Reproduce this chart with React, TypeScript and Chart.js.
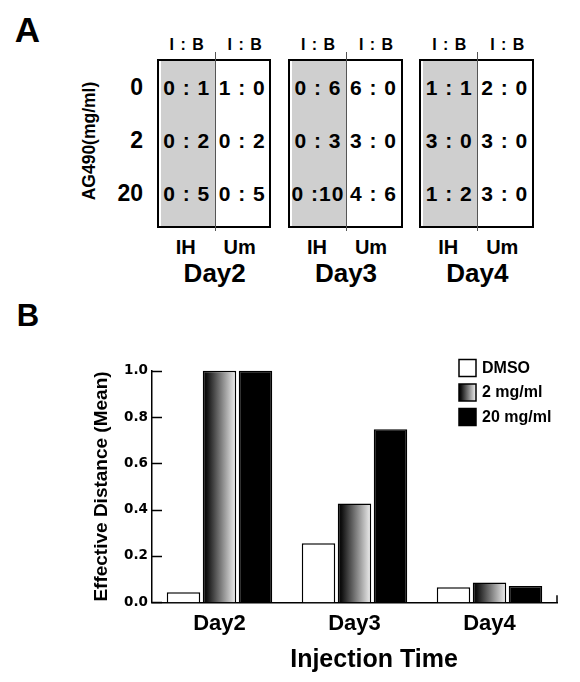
import React, { useEffect, useRef } from "react";
import { Chart, registerables } from "chart.js";
Chart.register(...registerables);

// ---------- Panel B data ----------
const categories = ["Day2", "Day3", "Day4"];
const seriesLabels = ["DMSO", "2 mg/ml", "20 mg/ml"];
const dmsoValues = [0.043, 0.255, 0.065];
const mg2Values = [1.0, 0.427, 0.086];
const mg20Values = [1.0, 0.747, 0.07];
const yTicks = [0, 0.2, 0.4, 0.6, 0.8, 1.0];
const yTitle = "Effective Distance (Mean)";
const xTitle = "Injection Time";

// ---------- Panel A data ----------
const panelDays = ["Day2", "Day3", "Day4"];
const doseLabels = ["0", "2", "20"];
const doseAxisLabel = "AG490(mg/ml)";
const columnHeaders = ["I : B", "I : B"];
const columnLabels = ["IH", "Um"];
const ihRatios = [
  ["0 : 1", "0 : 2", "0 : 5"],
  ["0 : 6", "0 : 3", "0 :10"],
  ["1 : 1", "3 : 0", "1 : 2"],
];
const umRatios = [
  ["1 : 0", "0 : 2", "0 : 5"],
  ["6 : 0", "3 : 0", "4 : 6"],
  ["2 : 0", "3 : 0", "3 : 0"],
];

const FONT = '"Liberation Sans", Arial, Helvetica, sans-serif';
const TICK_FONT = '"DejaVu Sans", "Liberation Sans", sans-serif';

function makeGradient(c: CanvasRenderingContext2D, x0: number, x1: number) {
  const g = c.createLinearGradient(x0, 0, x1, 0);
  g.addColorStop(0, "#000000");
  g.addColorStop(0.12, "#101010");
  g.addColorStop(1, "#f2f2f2");
  return g;
}

function Txt(props: {
  x: number;
  y: number;
  size: number;
  bold?: boolean;
  ls?: number;
  anchor?: "center" | "end" | "start";
  children: React.ReactNode;
}) {
  const { x, y, size, bold = true, ls = 0, anchor = "center", children } = props;
  const w = 200;
  const left = anchor === "center" ? x - w / 2 : anchor === "end" ? x - w : x;
  return (
    <div
      style={{
        position: "absolute",
        left,
        top: y - size,
        width: w,
        height: size * 2,
        display: "flex",
        alignItems: "center",
        justifyContent:
          anchor === "center" ? "center" : anchor === "end" ? "flex-end" : "flex-start",
        fontFamily: FONT,
        fontSize: size,
        fontWeight: bold ? 700 : 400,
        lineHeight: 1,
        letterSpacing: ls,
        paddingLeft: anchor === "center" ? ls : 0,
        boxSizing: "border-box",
        whiteSpace: "pre",
        color: "#000",
      }}
    >
      {children}
    </div>
  );
}

function PanelA() {
  const rowsY = [87, 140, 193];
  return (
    <>
      <Txt x={27.5} y={29.5} size={35}>A</Txt>
      <div
        style={{
          position: "absolute",
          left: 90 - 100,
          top: 141 - 12,
          width: 200,
          height: 24,
          display: "flex",
          alignItems: "center",
          justifyContent: "center",
          transform: "rotate(-90deg)",
          fontFamily: FONT,
          fontSize: 17.5,
          fontWeight: 700,
          lineHeight: 1,
          color: "#000",
          whiteSpace: "pre",
        }}
      >
        {doseAxisLabel}
      </div>
      {doseLabels.map((d, r) => (
        <Txt key={"d" + r} x={143} y={rowsY[r]} size={23} anchor="end">
          {d}
        </Txt>
      ))}
      {panelDays.map((day, i) => {
        const L = 156.7 + i * 131.3;
        return (
          <React.Fragment key={day}>
            <div
              style={{
                position: "absolute",
                left: L + 4,
                top: 61,
                width: 54,
                height: 165,
                background: "#cfcfcf",
              }}
            />
            <div
              style={{
                position: "absolute",
                left: L,
                top: 59,
                width: 114.5,
                height: 169,
                border: "2px solid #000",
                boxSizing: "border-box",
              }}
            />
            <div
              style={{
                position: "absolute",
                left: L + 58,
                top: 52,
                width: 1,
                height: 179,
                background: "#555",
              }}
            />
            <Txt x={L + 30} y={45} size={16} ls={1}>{columnHeaders[0]}</Txt>
            <Txt x={L + 88} y={45} size={16} ls={1}>{columnHeaders[1]}</Txt>
            {rowsY.map((y, r) => (
              <React.Fragment key={r}>
                <Txt x={L + 29.5} y={y} size={21} ls={1}>{ihRatios[i][r]}</Txt>
                <Txt x={L + 85} y={y} size={21} ls={1}>{umRatios[i][r]}</Txt>
              </React.Fragment>
            ))}
            <Txt x={L + 29} y={247} size={20}>{columnLabels[0]}</Txt>
            <Txt x={L + 83} y={247} size={20}>{columnLabels[1]}</Txt>
            <Txt x={L + 58} y={273} size={26}>{day}</Txt>
          </React.Fragment>
        );
      })}
    </>
  );
}

const decorPlugin = {
  id: "decor",
  afterDraw(chart: any) {
    const c: CanvasRenderingContext2D = chart.ctx;
    const { chartArea, scales } = chart;
    const y = scales.y;
    c.save();
    c.strokeStyle = "#000";
    c.lineWidth = 1.5;
    // inward y ticks
    yTicks.forEach((v) => {
      const py = Math.round(y.getPixelForValue(v)) + 0.5;
      c.beginPath();
      c.moveTo(chartArea.left, py);
      c.lineTo(chartArea.left + 10, py);
      c.stroke();
    });
    // right end tick of x axis
    c.beginPath();
    c.moveTo(chartArea.right, chartArea.bottom);
    c.lineTo(chartArea.right, chartArea.bottom - 7);
    c.stroke();

    // x title
    c.fillStyle = "#000";
    c.font = `bold 25px ${FONT}`;
    c.textAlign = "center";
    c.textBaseline = "middle";
    c.fillText(xTitle, 374, 370);

    // legend
    const fills = ["#ffffff", "grad", "#000000"];
    const lx = 459;
    const rowsC = [78, 102.5, 127];
    c.font = `bold 16px ${FONT}`;
    c.textAlign = "left";
    seriesLabels.forEach((lab, i) => {
      const cy = rowsC[i];
      const bx = lx, by = cy - 8.5, bw = 17, bh = 17;
      c.fillStyle = fills[i] === "grad" ? makeGradient(c, bx, bx + bw) : fills[i];
      c.fillRect(bx, by, bw, bh);
      c.lineWidth = 1.5;
      c.strokeRect(bx, by, bw, bh);
      c.fillStyle = "#000";
      c.fillText(lab, 482, cy + 0.5);
    });
    c.restore();
  },
};

export default function App() {
  const ref = useRef<HTMLCanvasElement | null>(null);
  useEffect(() => {
    if (!ref.current) return;
    const gradFill = (ctx: any) => {
      const chart = ctx.chart;
      const xs = chart.scales && chart.scales.x;
      if (!chart.chartArea || !xs) return "#777";
      const n = chart.data.datasets.length;
      const catW = xs.getPixelForValue(1) - xs.getPixelForValue(0);
      const slot = (catW * 0.8) / n;
      const center = xs.getPixelForValue(ctx.dataIndex) + (ctx.datasetIndex - (n - 1) / 2) * slot;
      const bw = slot * 0.93;
      return makeGradient(chart.ctx, center - bw / 2, center + bw / 2);
    };
    const common = {
      borderColor: "#000",
      borderWidth: 1.5,
      categoryPercentage: 0.8,
      barPercentage: 0.93,
      clip: false as any,
    };
    const chart = new Chart(ref.current, {
      type: "bar",
      data: {
        labels: categories,
        datasets: [
          { ...common, label: seriesLabels[0], data: dmsoValues, backgroundColor: "#ffffff" },
          { ...common, label: seriesLabels[1], data: mg2Values, backgroundColor: gradFill as any },
          { ...common, label: seriesLabels[2], data: mg20Values, backgroundColor: "#000000" },
        ],
      },
      options: {
        animation: false,
        responsive: false,
        maintainAspectRatio: false,
        layout: { padding: { left: 88, right: 23, top: 80.7, bottom: 0 } },
        plugins: {
          legend: { display: false },
          tooltip: { enabled: false },
          title: { display: false },
        },
        scales: {
          x: {
            grid: { display: false, drawTicks: false },
            border: { display: true, color: "#000", width: 1.5 },
            ticks: {
              color: "#000",
              font: { family: FONT, size: 22, weight: "bold" },
              padding: 8,
            },
            afterFit: (s: any) => {
              s.height = 79.7;
            },
          },
          y: {
            min: 0,
            max: 1,
            grid: { display: false, drawTicks: false },
            border: { display: true, color: "#000", width: 1.5 },
            ticks: {
              color: "#000",
              font: { family: TICK_FONT, size: 13.5, weight: "bold" },
              padding: 4,
              callback: (v: any) => Number(v).toFixed(1),
            },
            afterBuildTicks: (s: any) => {
              s.ticks = yTicks.map((v) => ({ value: v }));
            },
            title: {
              display: true,
              text: yTitle,
              color: "#000",
              font: { family: FONT, size: 19, weight: "bold" },
              padding: { top: 2.5, bottom: 0 },
            },
            afterFit: (s: any) => {
              s.width = 64;
            },
          },
        },
      } as any,
      plugins: [decorPlugin as any],
    });
    return () => chart.destroy();
  }, []);

  return (
    <div
      style={{
        position: "absolute",
        left: 0,
        top: 0,
        width: 580,
        height: 682,
        background: "#fff",
        overflow: "hidden",
      }}
    >
      <PanelA />
      <Txt x={28} y={315.5} size={31}>B</Txt>
      <canvas
        ref={ref}
        width={580}
        height={392}
        style={{ position: "absolute", left: 0, top: 290, width: 580, height: 392 }}
      />
    </div>
  );
}
